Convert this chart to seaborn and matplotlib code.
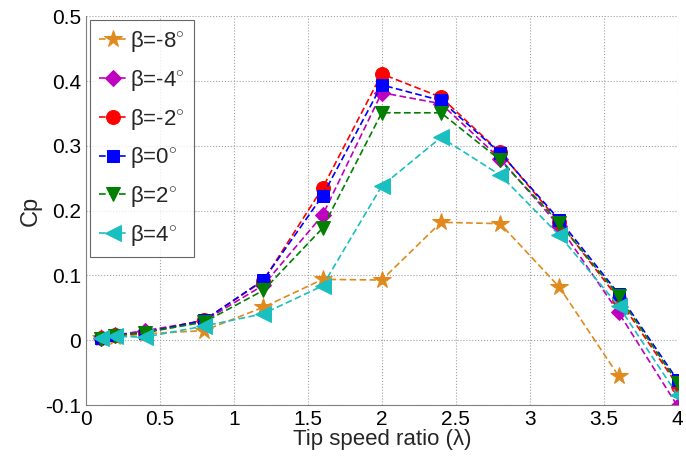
import matplotlib
matplotlib.use('Agg')
import matplotlib.pyplot as plt
import seaborn as sns
import numpy as np

tsr = [0.1, 0.2, 0.4, 0.8, 1.2, 1.6, 2.0, 2.4, 2.8, 3.2, 3.6, 4.0]

cp_m8 = [0.003, 0.005, 0.010, 0.015, 0.051, 0.094, 0.093, 0.182, 0.180, 0.082, -0.055]
cp_m4 = [0.003, 0.008, 0.015, 0.030, 0.085, 0.193, 0.382, 0.365, 0.280, 0.176, 0.043, -0.102]
cp_m2 = [0.004, 0.008, 0.012, 0.031, 0.092, 0.235, 0.411, 0.375, 0.290, 0.182, 0.064, -0.070]
cp_0 = [0.004, 0.008, 0.012, 0.031, 0.093, 0.223, 0.394, 0.370, 0.289, 0.186, 0.072, -0.062]
cp_2 = [0.002, 0.007, 0.012, 0.028, 0.077, 0.173, 0.351, 0.351, 0.278, 0.181, 0.069, -0.066]
cp_4 = [0.003, 0.006, 0.005, 0.022, 0.041, 0.084, 0.238, 0.313, 0.255, 0.162, 0.053, -0.085]

labels = ['β=-8$^{\\circ}$', 'β=-4$^{\\circ}$', 'β=-2$^{\\circ}$',
          'β=0$^{\\circ}$', 'β=2$^{\\circ}$', 'β=4$^{\\circ}$']

sns.set_style('white')
plt.rcParams['font.family'] = ['Liberation Sans', 'DejaVu Sans']
plt.rcParams['mathtext.fontset'] = 'custom'
plt.rcParams['mathtext.rm'] = 'Liberation Sans'

fig = plt.figure(figsize=(6.86, 4.63), dpi=100)
ax = fig.add_axes([0.125, 0.125, 0.863, 0.84])

series = [cp_m8, cp_m4, cp_m2, cp_0, cp_2, cp_4]
colors = ['#E08A1E', '#BF00BF', '#FF0000', '#0000FF', '#007F00', '#1ABFBF']
markers = ['*', 'D', 'o', 's', 'v', '<']
sizes = [13, 8, 10, 9, 10, 11]

for ys, lab, c, m, s in zip(series, labels, colors, markers, sizes):
    sns.lineplot(x=tsr[:len(ys)], y=ys, ax=ax, color=c, marker=m, markersize=s,
                 markeredgecolor=c, linestyle='--', linewidth=1.2, label=lab)
    ax.lines[-1].set_dashes([4, 2])

ax.set_xlim(0, 4)
ax.set_ylim(-0.1, 0.5)
ax.set_xticks(np.arange(0, 4.01, 0.5))
ax.set_xticklabels(['0', '0.5', '1', '1.5', '2', '2.5', '3', '3.5', '4'])
ax.set_yticks(np.arange(-0.1, 0.51, 0.1))
ax.set_yticklabels(['-0.1', '0', '0.1', '0.2', '0.3', '0.4', '0.5'])
ax.grid(True, ls=':', lw=0.8, c='#A0A0A0')
ax.tick_params(axis='both', direction='in', labelsize=15, length=4, colors='#808080',
               labelcolor='black')
for side in ['top', 'right']:
    ax.spines[side].set_visible(False)
for side in ['left', 'bottom']:
    ax.spines[side].set_color('#808080')
ax.set_xlabel('Tip speed ratio (λ)', fontsize=16, labelpad=0)
ax.set_ylabel('Cp', fontsize=17, labelpad=2)

leg = ax.legend(loc='upper left', fontsize=16, frameon=True, fancybox=False,
                handlelength=1.2, handletextpad=0.2, labelspacing=0.62,
                borderpad=0.4, borderaxespad=0.0, bbox_to_anchor=(0.008, 0.99))
leg.get_frame().set_edgecolor('#404040')
leg.get_frame().set_linewidth(0.8)

fig.savefig('out.png', dpi=100)
